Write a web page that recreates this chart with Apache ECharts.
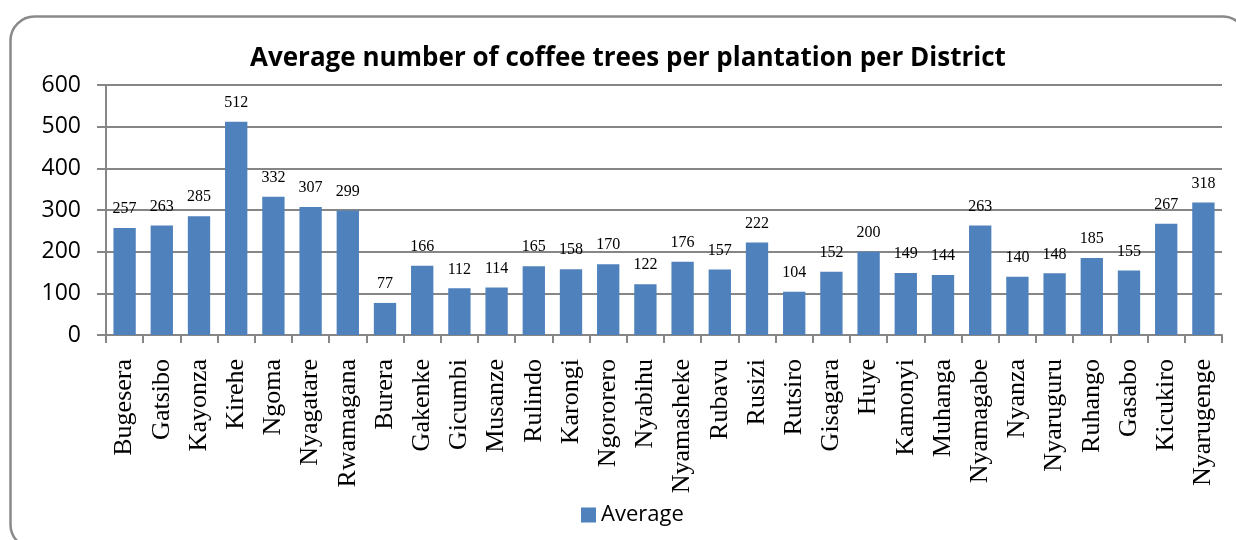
<!DOCTYPE html>
<html>
<head>
<meta charset="utf-8">
<script src="https://cdn.jsdelivr.net/npm/echarts@6/dist/echarts.min.js"></script>
<style>
  html, body { margin: 0; padding: 0; background: #ffffff; }
  #chart { width: 1236px; height: 540px; }
</style>
</head>
<body>
<div id="chart"></div>
<script>
// Districts, in the order they appear along the axis
const districts = [
  'Bugesera', 'Gatsibo', 'Kayonza', 'Kirehe', 'Ngoma', 'Nyagatare', 'Rwamagana',
  'Burera', 'Gakenke', 'Gicumbi', 'Musanze', 'Rulindo',
  'Karongi', 'Ngororero', 'Nyabihu', 'Nyamasheke', 'Rubavu', 'Rusizi', 'Rutsiro',
  'Gisagara', 'Huye', 'Kamonyi', 'Muhanga', 'Nyamagabe', 'Nyanza', 'Nyaruguru', 'Ruhango',
  'Gasabo', 'Kicukiro', 'Nyarugenge'
];

// Average number of coffee trees per plantation
const averageTrees = [
  257, 263, 285, 512, 332, 307, 299,
  77, 166, 112, 114, 165,
  158, 170, 122, 176, 157, 222, 104,
  152, 200, 149, 144, 263, 140, 148, 185,
  155, 267, 318
];

const yMin = 0;
const yMax = 600;
const yStep = 100;

const titleText = 'Average number of coffee trees per plantation per District';
const seriesName = 'Average';

const gridColor = '#868686';
const barColor = '#4f81bd';
const sansFont = '"Open Sans", "Noto Sans", sans-serif';
const serifFont = '"Liberation Serif", "DejaVu Serif", serif';

const chart = echarts.init(document.getElementById('chart'), null, { renderer: 'canvas' });

chart.setOption({
  animation: false,
  backgroundColor: '#ffffff',
  graphic: [{
    type: 'rect',
    z: -10,
    shape: { x: 10.5, y: 16.5, width: 1236, height: 532, r: 24 },
    style: { fill: 'none', stroke: '#8a8a8a', lineWidth: 2.5 }
  }],
  title: {
    text: titleText,
    left: 245,
    top: 41,
    textStyle: { fontFamily: sansFont, fontWeight: 'bold', fontSize: 26, color: '#000000' }
  },
  legend: {
    left: 576,
    top: 499,
    itemWidth: 15,
    itemHeight: 15,
    itemGap: 10,
    icon: 'rect',
    textStyle: { fontFamily: sansFont, fontSize: 22, color: '#000000' },
    data: [seriesName]
  },
  grid: { left: 106, right: 14, top: 85, bottom: 205, containLabel: false },
  xAxis: {
    type: 'category',
    data: districts,
    axisLine: { lineStyle: { color: gridColor, width: 2 } },
    axisTick: { show: true, length: 8, lineStyle: { color: gridColor, width: 2 } },
    axisLabel: {
      rotate: 90,
      interval: 0,
      margin: 24,
      fontFamily: serifFont,
      fontSize: 26,
      color: '#000000'
    }
  },
  yAxis: {
    type: 'value',
    min: yMin,
    max: yMax,
    interval: yStep,
    axisLine: { show: true, lineStyle: { color: gridColor, width: 2 } },
    axisTick: { show: true, length: 9, lineStyle: { color: gridColor, width: 2 } },
    splitLine: { show: true, lineStyle: { color: gridColor, width: 2 } },
    axisLabel: {
      margin: 25,
      fontFamily: sansFont,
      fontSize: 23,
      color: '#000000'
    }
  },
  series: [{
    name: seriesName,
    type: 'bar',
    data: averageTrees,
    barCategoryGap: '40%',
    itemStyle: { color: barColor },
    label: {
      show: true,
      position: 'top',
      distance: 11,
      fontFamily: serifFont,
      fontSize: 16,
      color: '#000000'
    }
  }]
});
</script>
</body>
</html>
